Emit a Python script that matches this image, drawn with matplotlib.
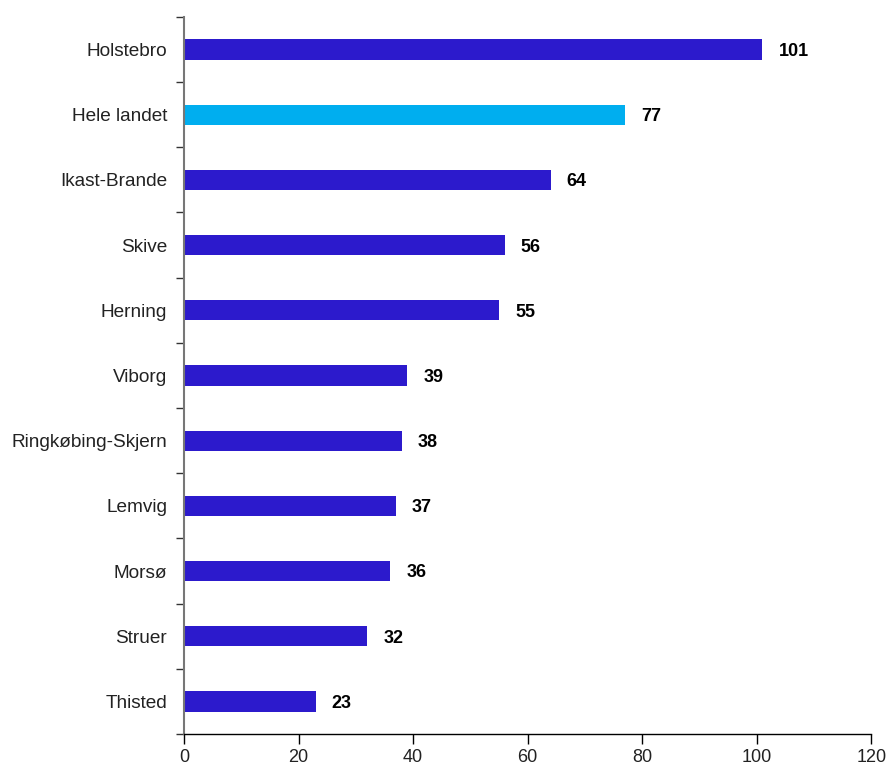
import matplotlib.pyplot as plt
import numpy as np

plt.rcParams['font.family'] = ['Liberation Sans', 'DejaVu Sans']

# Data
categories = ['Holstebro', 'Hele landet', 'Ikast-Brande', 'Skive', 'Herning', 'Viborg',
              'Ringkøbing-Skjern', 'Lemvig', 'Morsø', 'Struer', 'Thisted']
values = [101, 77, 64, 56, 55, 39, 38, 37, 36, 32, 23]
highlight = 'Hele landet'

dark_blue = '#2C1ACC'
light_blue = '#00AEEF'

fig = plt.figure(figsize=(8.89, 7.69), dpi=100)
ax = fig.add_axes([0.207, 0.0455, 0.773, 0.9325])

y = np.arange(len(categories))
colors = [light_blue if c == highlight else dark_blue for c in categories]
ax.barh(y, values, height=0.31, color=colors, zorder=2)

for yi, v in zip(y, values):
    ax.text(v + 2.8, yi + 0.03, str(v), va='center', ha='left', fontsize=13,
            fontweight='bold', color='black')

ax.set_ylim(len(categories) - 0.5, -0.5)
ax.set_xlim(0, 120)
ax.set_xticks(np.arange(0, 121, 20))

# category labels between boundary ticks
ax.set_yticks(y)
ax.set_yticklabels(categories, fontsize=13.7, color='#222222')
ax.tick_params(axis='y', length=0, pad=12)
ax.set_yticks(np.arange(-0.5, len(categories), 1), minor=True)
ax.tick_params(axis='y', which='minor', length=6, width=1, color='#333333', direction='out')

ax.tick_params(axis='x', length=7, width=1, direction='out', labelsize=13,
               labelcolor='#222222', pad=4)

for s in ['top', 'right']:
    ax.spines[s].set_visible(False)
ax.spines['left'].set_color('#777777')
ax.spines['left'].set_linewidth(1.5)
ax.spines['bottom'].set_color('black')
ax.spines['bottom'].set_linewidth(1)

fig.savefig('out.png', dpi=100)
